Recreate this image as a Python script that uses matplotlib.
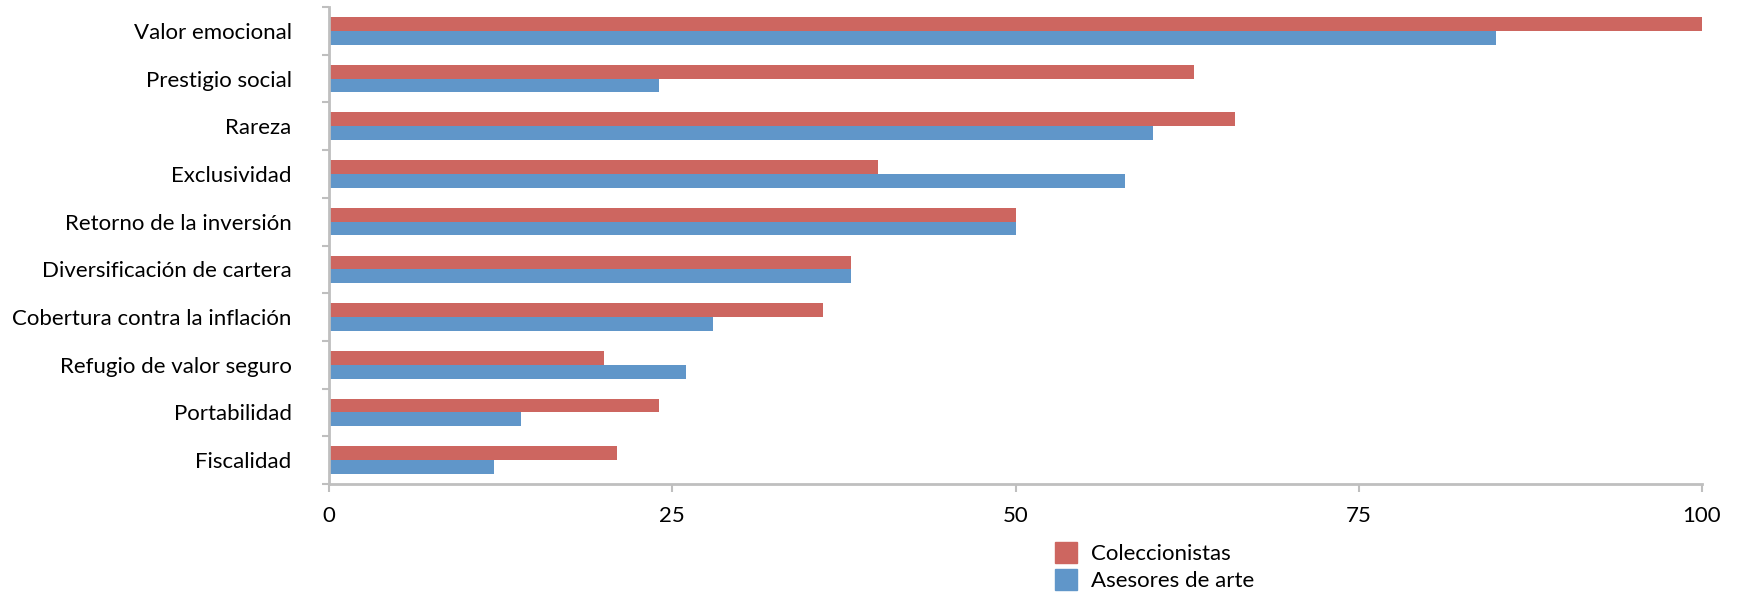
import numpy as np
import matplotlib
matplotlib.use('Agg')
import matplotlib.pyplot as plt
from matplotlib.patches import Patch

plt.rcParams['font.family'] = ['Lato', 'DejaVu Sans']

categories = ['Valor emocional', 'Prestigio social', 'Rareza', 'Exclusividad',
              'Retorno de la inversión', 'Diversificación de cartera',
              'Cobertura contra la inflación', 'Refugio de valor seguro',
              'Portabilidad', 'Fiscalidad']
coleccionistas = [100, 63, 66, 40, 50, 38, 36, 20, 24, 21]
asesores = [85, 24, 60, 58, 50, 38, 28, 26, 14, 12]
series_names = ['Coleccionistas', 'Asesores de arte']
xticks = [0, 25, 50, 75, 100]

red = '#CD6660'
blue = '#6096C9'
grey = '#BFBFBF'
fs = 16

fig = plt.figure(figsize=(17.38, 5.98), dpi=100)
ax = fig.add_axes([329/1738, 1-484/598, (1702-329)/1738, (484-7)/598])

n = len(categories)
y = np.arange(n)
h = 0.29
ax.barh(y - h/2, coleccionistas, height=h, color=red)
ax.barh(y + h/2, asesores, height=h, color=blue)

ax.set_ylim(n - 0.5, -0.5)
ax.set_xlim(0, 100)
ax.set_yticks(y)
ax.set_yticklabels(categories, fontsize=fs)
ax.set_yticks(np.arange(n + 1) - 0.5, minor=True)
ax.tick_params(axis='y', which='major', length=0, pad=27)
ax.tick_params(axis='y', which='minor', length=5, width=1.5, color=grey)
ax.set_xticks(xticks)
ax.set_xticklabels([str(t) for t in xticks], fontsize=fs)
ax.tick_params(axis='x', length=6, width=1.5, color=grey, pad=10)

for s in ['top', 'right']:
    ax.spines[s].set_visible(False)
for s in ['left', 'bottom']:
    ax.spines[s].set_color(grey)
    ax.spines[s].set_linewidth(2)

handles = [Patch(color=red), Patch(color=blue)]
fig.legend(handles, series_names, loc='upper left',
           bbox_to_anchor=(1055/1738, 1-542/598), frameon=False, fontsize=fs,
           handlelength=1.0, handleheight=1.1, labelspacing=0.2,
           handletextpad=0.6, borderpad=0, borderaxespad=0)

fig.savefig('out.png', dpi=100)
